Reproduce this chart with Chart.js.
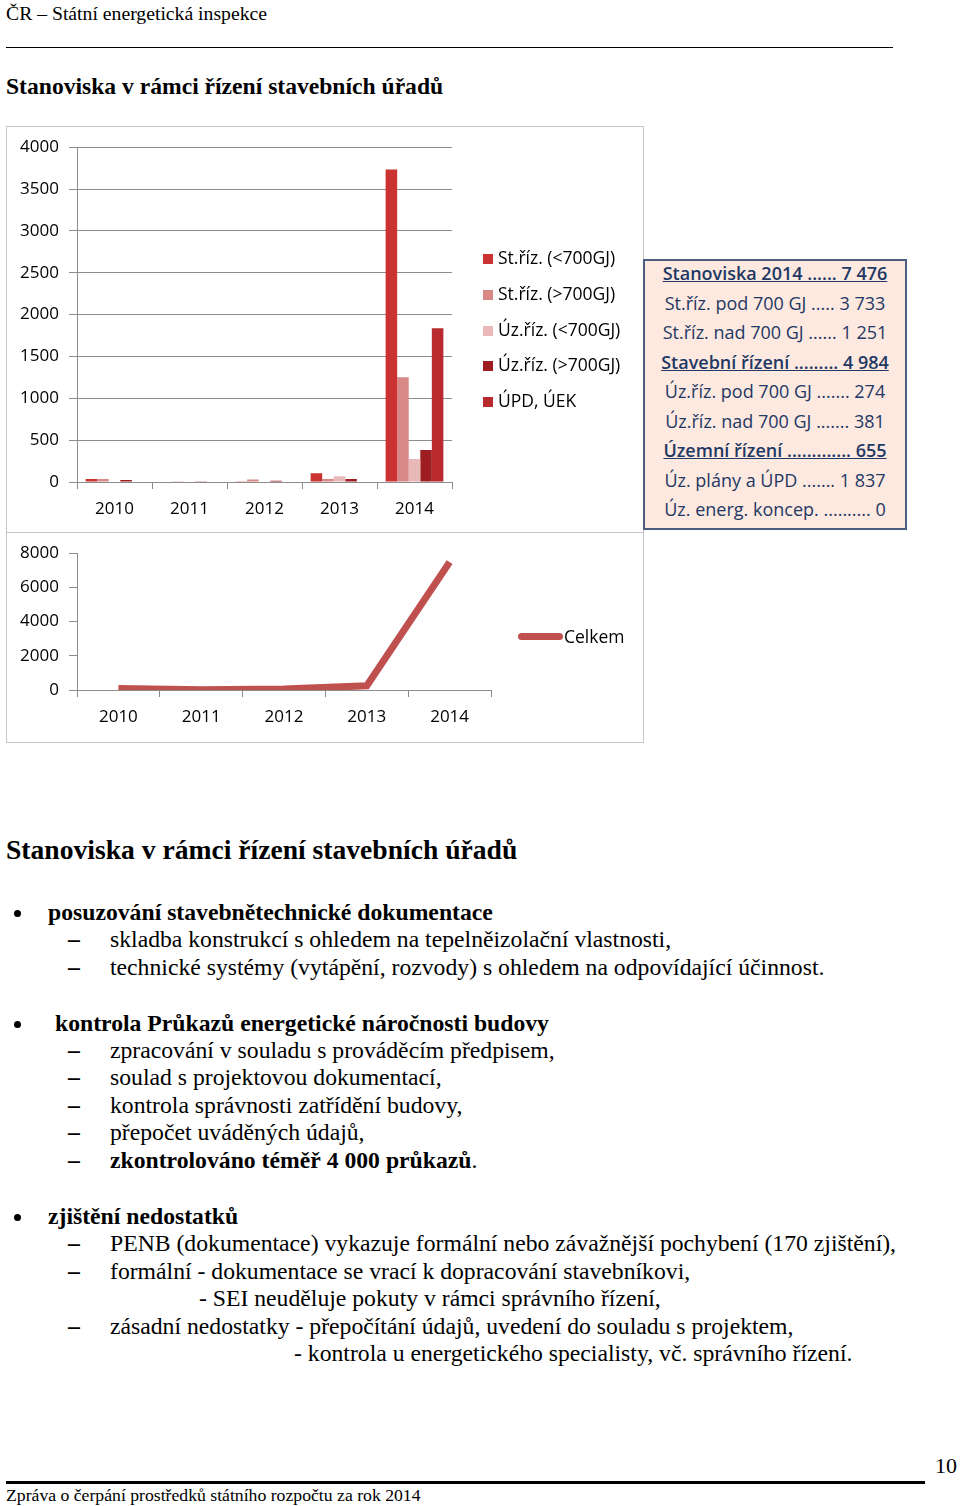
<!DOCTYPE html>
<html>
<head>
<meta charset="utf-8">
<script src="https://cdn.jsdelivr.net/npm/chart.js@4"></script>
<style>
  body { margin: 0; background: #fff; width: 960px; height: 1506px; position: relative; overflow: hidden; font-family: "Liberation Serif", serif; color: #000; }
  .t { position: absolute; white-space: nowrap; }
  .dot { position: absolute; width: 7px; height: 7px; border-radius: 50%; background: #000; }
  .box { position: absolute; border: 1px solid #c6c6c6; box-sizing: border-box; background: #fff; }
  canvas { position: absolute; }
  .leg { position: absolute; font-family: "Open Sans", sans-serif; font-size: 17.5px; color: #000; white-space: nowrap; }
  .leg i { display: inline-block; width: 10px; height: 10px; margin-right: 5px; vertical-align: 0px; }
  #info { position: absolute; left: 643px; top: 259px; width: 264px; height: 271px; box-sizing: border-box;
          border: 2px solid #4a5d80; background: #fde9df; font-family: "Open Sans", sans-serif; color: #1f3864; font-size: 18px; }
  #info div { position: absolute; left: 0; width: 100%; text-align: center; height: 22px; line-height: 22px; white-space: nowrap; }
  #info .u { text-decoration: underline; font-weight: 600; }
</style>
</head>
<body>
<div class="t" style="left:6px;top:3px;font-size:19.7px;line-height:20px;">ČR – Státní energetická inspekce</div>
<div style="position:absolute;left:6px;top:47px;width:887px;height:1px;background:#000;"></div>
<div class="t" style="left:6px;top:74px;font-size:23.6px;line-height:24px;font-weight:bold;">Stanoviska v rámci řízení stavebních úřadů</div>

<div class="box" style="left:6px;top:126px;width:638px;height:407px;"></div>
<div class="box" style="left:6px;top:532px;width:638px;height:211px;"></div>
<canvas id="bars" width="636" height="404" style="left:7px;top:127px;width:636px;height:404px;"></canvas>
<canvas id="line" width="636" height="208" style="left:7px;top:533px;width:636px;height:208px;"></canvas>
<div id="barLegend"></div>
<div id="lineLegend"></div>
<div id="info"></div>

<div class="t" style="left:6px;top:836px;font-size:27.6px;line-height:28px;font-weight:bold;">Stanoviska v rámci řízení stavebních úřadů</div>
<div id="text"></div>

<div class="t" style="left:935px;top:1455px;font-size:22px;line-height:22px;">10</div>
<div style="position:absolute;left:6px;top:1481px;width:919px;height:3px;background:#000;"></div>
<div class="t" style="left:6px;top:1486px;font-size:17.7px;line-height:18px;">Zpráva o čerpání prostředků státního rozpočtu za rok 2014</div>

<script>
// data
const years = ['2010', '2011', '2012', '2013', '2014'];
const seriesNames = ['St.říz. (<700GJ)', 'St.říz. (>700GJ)', 'Úz.říz. (<700GJ)', 'Úz.říz. (>700GJ)', 'ÚPD, ÚEK'];
const stUnder700 = [35, 0, 10, 105, 3733];
const stOver700 = [35, 10, 30, 35, 1251];
const uzUnder700 = [0, 0, 5, 70, 274];
const uzOver700 = [25, 8, 15, 35, 381];
const updUek = [0, 0, 0, 0, 1837];
const celkem = [95, 18, 60, 245, 7476];
const barTicks = [0, 500, 1000, 1500, 2000, 2500, 3000, 3500, 4000];
const lineTicks = [0, 2000, 4000, 6000, 8000];
const infoLines = [
  ['Stanoviska 2014 ...... 7 476', true],
  ['St.říz. pod 700 GJ ..... 3 733', false],
  ['St.říz. nad 700 GJ ...... 1 251', false],
  ['Stavební řízení ......... 4 984', true],
  ['Úz.říz. pod 700 GJ ....... 274', false],
  ['Úz.říz. nad 700 GJ ....... 381', false],
  ['Územní řízení ............. 655', true],
  ['Úz. plány a ÚPD ....... 1 837', false],
  ['Úz. energ. koncep. .......... 0', false]
];

const barColors = ['#cb3232', '#d98888', '#e9b8b8', '#9e1d21', '#b92a2e'];
const gridColor = '#8c8c8c';
const tickFont = { family: 'Open Sans', size: 17 };
const plain = v => String(v);

const barData = [stUnder700, stOver700, uzUnder700, uzOver700, updUek];

new Chart(document.getElementById('bars'), {
  type: 'bar',
  data: {
    labels: years,
    datasets: barData.map((d, i) => ({
      label: seriesNames[i], data: d, backgroundColor: barColors[i],
      barPercentage: 1.0, categoryPercentage: 0.77
    }))
  },
  options: {
    responsive: false, animation: false,
    layout: { padding: { top: 20, right: 191, left: 0, bottom: 0 } },
    plugins: { legend: { display: false }, tooltip: { enabled: false } },
    scales: {
      x: {
        grid: { offset: true, drawOnChartArea: false, color: gridColor, tickLength: 7 },
        border: { color: gridColor },
        ticks: { color: '#000', font: tickFont, padding: 10 },
        afterFit: s => { s.height = 49; }
      },
      y: {
        min: 0, max: 4000,
        afterBuildTicks: s => { s.ticks = barTicks.map(v => ({ value: v })); },
        grid: { color: gridColor, tickLength: 8 },
        border: { color: gridColor },
        ticks: { color: '#000', font: tickFont, padding: 10, callback: plain },
        afterFit: s => { s.width = 70; }
      }
    }
  }
});

new Chart(document.getElementById('line'), {
  type: 'line',
  data: {
    labels: years,
    datasets: [{ label: 'Celkem', data: celkem, borderColor: '#c0504d', borderWidth: 7, pointRadius: 0, tension: 0 }]
  },
  options: {
    responsive: false, animation: false,
    layout: { padding: { top: 20, right: 152, left: 0, bottom: 0 } },
    plugins: { legend: { display: false }, tooltip: { enabled: false } },
    scales: {
      x: {
        offset: true,
        grid: { offset: true, drawOnChartArea: false, color: gridColor, tickLength: 7 },
        border: { color: gridColor },
        ticks: { color: '#000', font: tickFont, padding: 10 },
        afterFit: s => { s.height = 51; }
      },
      y: {
        min: 0, max: 8000,
        afterBuildTicks: s => { s.ticks = lineTicks.map(v => ({ value: v })); },
        grid: { drawOnChartArea: false, color: gridColor, tickLength: 8 },
        border: { color: gridColor },
        ticks: { color: '#000', font: tickFont, padding: 10, callback: plain },
        afterFit: s => { s.width = 70; }
      }
    }
  }
});

// legends
const bl = document.getElementById('barLegend');
seriesNames.forEach((n, i) => {
  const d = document.createElement('div');
  d.className = 'leg';
  d.style.left = '483px';
  d.style.top = (245 + i * 35.8) + 'px';
  d.innerHTML = '<i style="background:' + barColors[i] + '"></i>';
  d.appendChild(document.createTextNode(n));
  bl.appendChild(d);
});
const ll = document.getElementById('lineLegend');
ll.className = 'leg';
ll.style.left = '518px';
ll.style.top = '624px';
ll.innerHTML = '<i style="background:#c0504d;width:45px;height:7px;border-radius:4px;margin-right:1px;vertical-align:3px"></i>Celkem';

// info box
const info = document.getElementById('info');
infoLines.forEach((l, i) => {
  const d = document.createElement('div');
  d.textContent = l[0];
  if (l[1]) d.className = 'u';
  d.style.top = (1 + i * 29.5) + 'px';
  info.appendChild(d);
});

// text below
const lines = [
  ['b', 913, 48, 'posuzování stavebnětechnické dokumentace'],
  ['d', 940, 110, 'skladba konstrukcí s ohledem na tepelněizolační vlastnosti,'],
  ['d', 968, 110, 'technické systémy (vytápění, rozvody) s ohledem na odpovídající účinnost.'],
  ['b', 1024, 55, 'kontrola Průkazů energetické náročnosti budovy'],
  ['d', 1051, 110, 'zpracování v souladu s prováděcím předpisem,'],
  ['d', 1078, 110, 'soulad s projektovou dokumentací,'],
  ['d', 1106, 110, 'kontrola správnosti zatřídění budovy,'],
  ['d', 1133, 110, 'přepočet uváděných údajů,'],
  ['db', 1161, 110, 'zkontrolováno téměř 4 000 průkazů'],
  ['b', 1217, 48, 'zjištění nedostatků'],
  ['d', 1244, 110, 'PENB (dokumentace) vykazuje formální nebo závažnější pochybení (170 zjištění),'],
  ['d', 1272, 110, 'formální - dokumentace se vrací k dopracování stavebníkovi,'],
  ['n', 1299, 199, '- SEI neuděluje pokuty v rámci správního řízení,'],
  ['d', 1327, 110, 'zásadní nedostatky - přepočítání údajů, uvedení do souladu s projektem,'],
  ['n', 1354, 294, '- kontrola u energetického specialisty, vč. správního řízení.']
];
const fs = 23.7;
const tx = document.getElementById('text');
lines.forEach(l => {
  const [kind, cy, x, s] = l;
  const d = document.createElement('div');
  d.className = 't';
  d.style.left = x + 'px';
  d.style.top = (cy - fs / 2) + 'px';
  d.style.fontSize = fs + 'px';
  d.style.lineHeight = fs + 'px';
  if (kind === 'b') d.style.fontWeight = 'bold';
  if (kind === 'db') d.innerHTML = '<b>' + s + '</b>.';
  else d.textContent = s;
  tx.appendChild(d);
  if (kind === 'b') {
    const m = document.createElement('div');
    m.className = 'dot';
    m.style.left = '14px';
    m.style.top = (cy - 3) + 'px';
    tx.appendChild(m);
  } else if (kind === 'd' || kind === 'db') {
    const m = document.createElement('div');
    m.className = 't';
    m.style.left = '68px';
    m.style.top = (cy - fs / 2) + 'px';
    m.style.fontSize = fs + 'px';
    m.style.lineHeight = fs + 'px';
    m.style.fontWeight = 'bold';
    m.textContent = '–';
    tx.appendChild(m);
  }
});
</script>
</body>
</html>
